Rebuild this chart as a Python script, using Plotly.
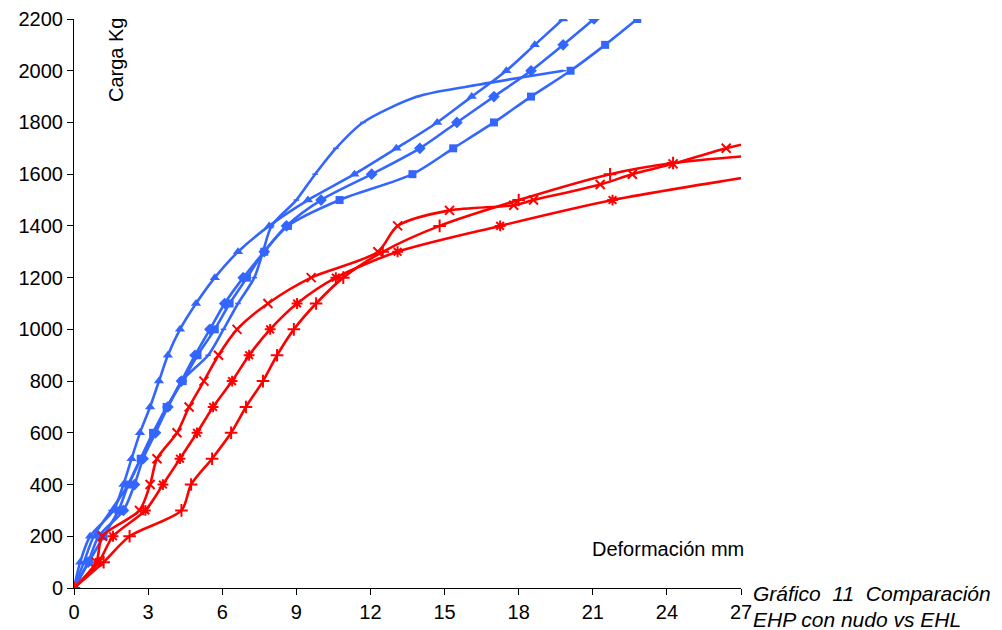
import plotly.graph_objects as go

# ---- data (Deformación mm, Carga Kg) ----
b1_x = [0, 0.25, 0.65, 1.6, 2.0, 2.33, 2.67, 3.08, 3.44, 3.8, 4.29, 4.94, 5.7, 6.64, 7.9, 9.47, 11.35, 13.05, 14.7, 16.1, 17.5, 18.65, 19.8]
b1_y = [0, 100, 200, 300, 400, 500, 600, 700, 800, 900, 1000, 1100, 1200, 1300, 1400, 1500, 1600, 1700, 1800, 1900, 2000, 2100, 2200]

b2_x = [0, 0.57, 1.0, 2.0, 2.45, 2.8, 3.3, 3.8, 4.35, 4.9, 5.5, 6.1, 6.85, 7.7, 8.6, 10.0, 12.05, 14.0, 15.5, 17.0, 18.5, 19.8, 21.05]
b2_y = [0, 100, 200, 300, 400, 500, 600, 700, 800, 900, 1000, 1100, 1200, 1300, 1400, 1500, 1600, 1700, 1800, 1900, 2000, 2100, 2200]

b3_x = [0, 0.6, 1.2, 1.8, 2.2, 2.7, 3.2, 3.75, 4.4, 5.0, 5.7, 6.3, 7.0, 7.7, 8.66, 10.75, 13.7, 15.35, 17.0, 18.5, 20.1, 21.5, 22.8]
b3_y = [0, 100, 200, 300, 400, 500, 600, 700, 800, 900, 1000, 1100, 1200, 1300, 1400, 1500, 1600, 1700, 1800, 1900, 2000, 2100, 2200]

b4_x = [0, 0.4, 0.8, 1.5, 2.2, 2.7, 3.2, 3.8, 4.36, 5.43, 6.05, 6.64, 7.3, 7.65, 8.0, 9.0, 9.76, 10.6, 11.7, 13.9, 16.0, 19.8]
b4_y = [0, 100, 200, 300, 400, 500, 600, 700, 800, 900, 1000, 1100, 1200, 1300, 1400, 1500, 1600, 1700, 1800, 1900, 1940, 2000]

r1_x = [0, 0.9, 1.15, 2.65, 3.08, 3.36, 4.17, 4.66, 5.26, 5.85, 6.6, 7.85, 9.6, 12.3, 13.1, 15.2, 17.8, 18.6, 21.3, 22.6, 24.25, 26.4, 28.0]
r1_y = [0, 100, 200, 300, 400, 500, 600, 700, 800, 900, 1000, 1100, 1200, 1300, 1400, 1460, 1480, 1500, 1560, 1600, 1640, 1700, 1735]

r2_x = [0, 1.0, 1.58, 2.89, 3.6, 4.29, 4.98, 5.63, 6.4, 7.09, 7.94, 9.03, 10.6, 13.1, 17.25, 21.8, 28.0]
r2_y = [0, 100, 200, 300, 400, 500, 600, 700, 800, 900, 1000, 1100, 1200, 1300, 1400, 1500, 1600]

r3_x = [0, 1.2, 2.25, 4.35, 4.74, 5.59, 6.36, 6.96, 7.65, 8.22, 8.9, 9.8, 10.9, 12.5, 14.8, 18.0, 21.7, 24.25, 28.0]
r3_y = [0, 100, 200, 300, 400, 500, 600, 700, 800, 900, 1000, 1100, 1200, 1300, 1400, 1500, 1600, 1643, 1676]

x_ticks = list(range(0, 28, 3))
y_ticks = list(range(0, 2201, 200))

BLUE = "#3366FF"
RED = "#FF0000"
FONT = "Liberation Sans, Arial, sans-serif"

# page body has an 8px default margin -> compensate
OFF = 8
PL, PR, PT, PB = 74, 741, 19, 588   # plot area in page pixels
W, H = 1002 - OFF, 630 - OFF

fig = go.Figure()

def add(x, y, color, symbol, size, mlw=0):
    fig.add_trace(go.Scatter(
        x=x, y=y, mode="lines+markers",
        line=dict(color=color, width=2.6, shape="spline", smoothing=0.8),
        marker=dict(symbol=symbol, size=size, color=color,
                    line=dict(color=color, width=mlw)),
        showlegend=False, cliponaxis=True,
    ))

add(b4_x, b4_y, BLUE, "line-ew", 4, mlw=1.5)
add(b3_x, b3_y, BLUE, "square", 8)
add(b2_x, b2_y, BLUE, "diamond", 9)
add(b1_x, b1_y, BLUE, "triangle-up", 9)
add(r3_x, r3_y, RED, "cross-thin", 9, mlw=2)
add(r2_x, r2_y, RED, "asterisk", 9, mlw=2)
add(r1_x, r1_y, RED, "x-thin", 9, mlw=2)

axis_common = dict(
    showline=True, linecolor="black", linewidth=1, mirror=False,
    ticks="outside", ticklen=6, tickcolor="black", tickwidth=1,
    showgrid=False, zeroline=False,
    tickfont=dict(family=FONT, size=20, color="black"),
)

fig.update_xaxes(range=[0, 27], tickvals=x_ticks, ticktext=[str(v) for v in x_ticks], **axis_common)
fig.update_yaxes(range=[0, 2200], tickvals=y_ticks, ticktext=[str(v) for v in y_ticks], **axis_common)

pw = PR - PL
ph = PB - PT

def px(xp):
    return (xp - PL) / pw

def py(yp):
    return (PB - yp) / ph

fig.update_layout(
    width=W, height=H,
    margin=dict(l=PL - OFF, r=W - (PR - OFF), t=PT - OFF, b=H - (PB - OFF), autoexpand=False),
    paper_bgcolor="white", plot_bgcolor="white",
    font=dict(family=FONT, size=20, color="black"),
    annotations=[
        dict(text="Carga Kg", xref="paper", yref="paper", x=px(116), y=py(60),
             xanchor="center", yanchor="middle",
             textangle=-90, showarrow=False, font=dict(family=FONT, size=20)),
        dict(text="Deformación mm", xref="paper", yref="paper", x=px(746), y=py(549),
             xanchor="right", yanchor="middle", showarrow=False, font=dict(family=FONT, size=20)),
        dict(text="<i>Gráfico\u00a0 11\u00a0 Comparación</i>", xref="paper", yref="paper",
             x=px(751), y=py(593), xanchor="left", yanchor="middle",
             showarrow=False, font=dict(family=FONT, size=21)),
        dict(text="<i>EHP con nudo vs EHL</i>", xref="paper", yref="paper",
             x=px(751), y=py(619), xanchor="left", yanchor="middle",
             showarrow=False, font=dict(family=FONT, size=21)),
    ],
)

fig.write_html("out.html")
